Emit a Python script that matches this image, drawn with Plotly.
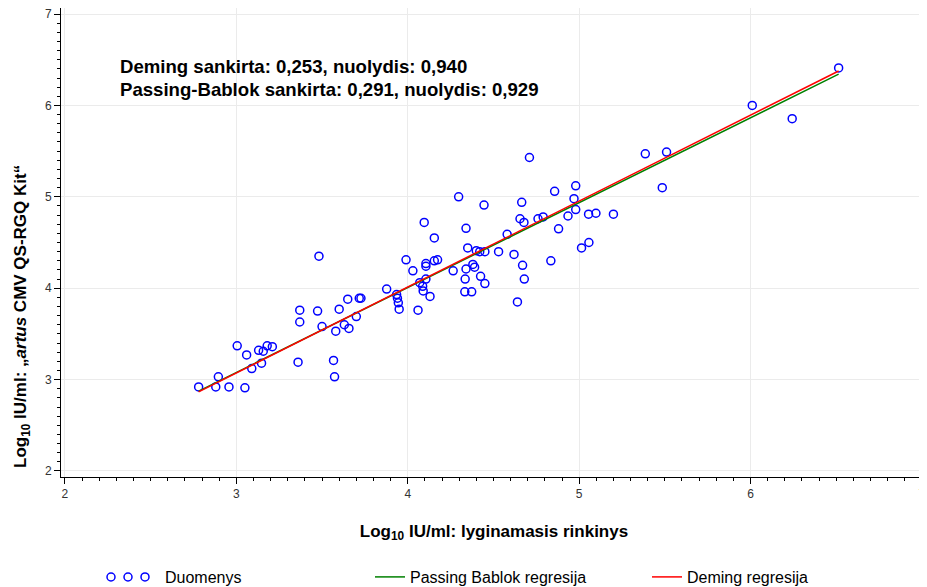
import plotly.graph_objects as go

# Data
comparator_log = [2.78, 2.88, 2.895, 2.957, 3.05, 3.005, 3.06, 3.09, 3.147, 3.13,
                  3.157, 3.18, 3.21, 3.36, 3.37, 3.37, 3.482, 3.474, 3.50, 3.567,
                  3.573, 3.58, 3.60, 3.63, 3.657, 3.65, 3.70, 3.717, 3.727, 3.877,
                  3.935, 3.94, 3.945, 3.95, 3.99, 4.03, 4.06, 4.07, 4.087, 4.09,
                  4.096, 4.106, 4.106, 4.106, 4.13, 4.155, 4.155, 4.174, 4.265, 4.297,
                  4.333, 4.335, 4.34, 4.34, 4.35, 4.373, 4.38, 4.39, 4.40, 4.42,
                  4.425, 4.445, 4.45, 4.45, 4.53, 4.58, 4.62, 4.64, 4.655, 4.665,
                  4.67, 4.678, 4.68, 4.71, 4.76, 4.79, 4.835, 4.857, 4.88, 4.935,
                  4.97, 4.98, 4.98, 5.014, 5.057, 5.055, 5.098, 5.20, 5.386, 5.485,
                  5.51, 6.01, 6.243, 6.514]
artus_log = [2.92, 2.92, 3.03, 2.92, 2.91, 3.37, 3.27, 3.12, 3.18, 3.32,
             3.31, 3.37, 3.36, 3.19, 3.63, 3.76, 4.35, 3.75, 3.58, 3.21,
             3.03, 3.53, 3.77, 3.60, 3.56, 3.88, 3.69, 3.89, 3.89, 3.99,
             3.93, 3.89, 3.84, 3.77, 4.31, 4.19, 3.76, 4.06, 4.02, 3.97,
             4.72, 4.27, 4.24, 4.10, 3.91, 4.55, 4.30, 4.31, 4.19, 5.00,
             3.96, 4.10, 4.21, 4.655, 4.44, 3.96, 4.26, 4.23, 4.41, 4.40,
             4.13, 4.91, 4.40, 4.05, 4.40, 4.59, 4.37, 3.85, 4.76, 4.94,
             4.25, 4.72, 4.10, 5.43, 4.76, 4.78, 4.30, 5.06, 4.65, 4.79,
             4.98, 5.12, 4.86, 4.44, 4.50, 4.81, 4.82, 4.81, 5.47, 5.10,
             5.49, 6.00, 5.855, 6.41]

deming_intercept, deming_slope = 0.253, 0.940
pb_intercept, pb_slope = 0.291, 0.929

x_line = [min(comparator_log), max(comparator_log)]
deming_y = [deming_intercept + deming_slope * v for v in x_line]
pb_y = [pb_intercept + pb_slope * v for v in x_line]

FONT = "Liberation Sans, Arial, sans-serif"

fig = go.Figure()
fig.add_trace(go.Scatter(
    x=comparator_log, y=artus_log, mode="markers", name="Duomenys",
    marker=dict(symbol="circle-open", size=8, color="#0000ff", line=dict(width=1.5, color="#0000ff")),
    legend="legend"))
fig.add_trace(go.Scatter(
    x=x_line, y=pb_y, mode="lines", name="Passing Bablok regresija",
    line=dict(color="#008000", width=1.5), legend="legend2"))
fig.add_trace(go.Scatter(
    x=x_line, y=deming_y, mode="lines", name="Deming regresija",
    line=dict(color="#ff0000", width=1.5), legend="legend3"))

# The page body has an 8px margin, so the figure starts at (8, 8) in the window.
OFF = 8
W, H = 927 - OFF, 587 - OFF
L, R, T, B = 61 - OFF, 0, 0, 110
pw = W - L - R
ph = H - T - B

def px_x(p):
    return (p - OFF - L) / pw

def px_y(p):
    return (H - B - (p - OFF)) / ph

axis_common = dict(
    showline=True, linecolor="black", linewidth=1,
    ticks="outside", ticklen=6, tickcolor="black", tickwidth=1,
    showgrid=True, gridcolor="#ebebeb", gridwidth=1,
    zeroline=False, dtick=1, automargin=False,
    ticklabeloverflow="allow",
    tickfont=dict(family=FONT, size=12, color="#333333"),
    minor=dict(dtick=0.1, ticks="outside", ticklen=3, tickcolor="black", tickwidth=1, showgrid=False),
)

leg_common = dict(orientation="h", xanchor="left", y=px_y(577), yanchor="middle",
                  font=dict(size=16, family=FONT, color="black"), bgcolor="rgba(0,0,0,0)")

fig.update_layout(
    width=W, height=H,
    margin=dict(l=L, r=R, t=T, b=B, autoexpand=False),
    paper_bgcolor="white", plot_bgcolor="white",
    font=dict(family=FONT, color="black"),
    xaxis=dict(range=[1.977, 7.0295],
               title=dict(text="<b>Log<sub>10</sub> IU/ml: lyginamasis rinkinys</b>",
                          font=dict(size=17, family=FONT), standoff=24),
               **axis_common),
    yaxis=dict(range=[1.934, 7.066], **axis_common),
    legend=dict(x=px_x(125), **leg_common),
    legend2=dict(x=px_x(370), **leg_common),
    legend3=dict(x=px_x(647), **leg_common),
    showlegend=True,
)

# y-axis title (placed as in the reference, below the axis centre)
fig.add_annotation(xref="paper", yref="paper", x=px_x(22), y=px_y(317),
                   xanchor="center", yanchor="middle", showarrow=False, textangle=-90,
                   text="<b>Log<sub>10</sub> IU/ml: „<i>artus</i> CMV QS-RGQ Kit“</b>",
                   font=dict(size=17, family=FONT, color="black"))

fig.add_annotation(xref="paper", yref="paper", x=px_x(118), y=px_y(67),
                   xanchor="left", yanchor="middle", showarrow=False,
                   text="<b>Deming sankirta: 0,253, nuolydis: 0,940</b>",
                   font=dict(size=18.6, family=FONT, color="black"))
fig.add_annotation(xref="paper", yref="paper", x=px_x(118), y=px_y(89),
                   xanchor="left", yanchor="middle", showarrow=False,
                   text="<b>Passing-Bablok sankirta: 0,291, nuolydis: 0,929</b>",
                   font=dict(size=18.6, family=FONT, color="black"))

# extra legend glyphs: the reference shows three circles for "Duomenys"
for cx in (111, 128):
    fig.add_shape(type="circle", xref="paper", yref="paper",
                  xsizemode="pixel", ysizemode="pixel",
                  xanchor=px_x(cx), yanchor=px_y(577),
                  x0=-4, x1=4, y0=-4, y1=4,
                  line=dict(color="#0000ff", width=1.5))

fig.write_html("out.html")
